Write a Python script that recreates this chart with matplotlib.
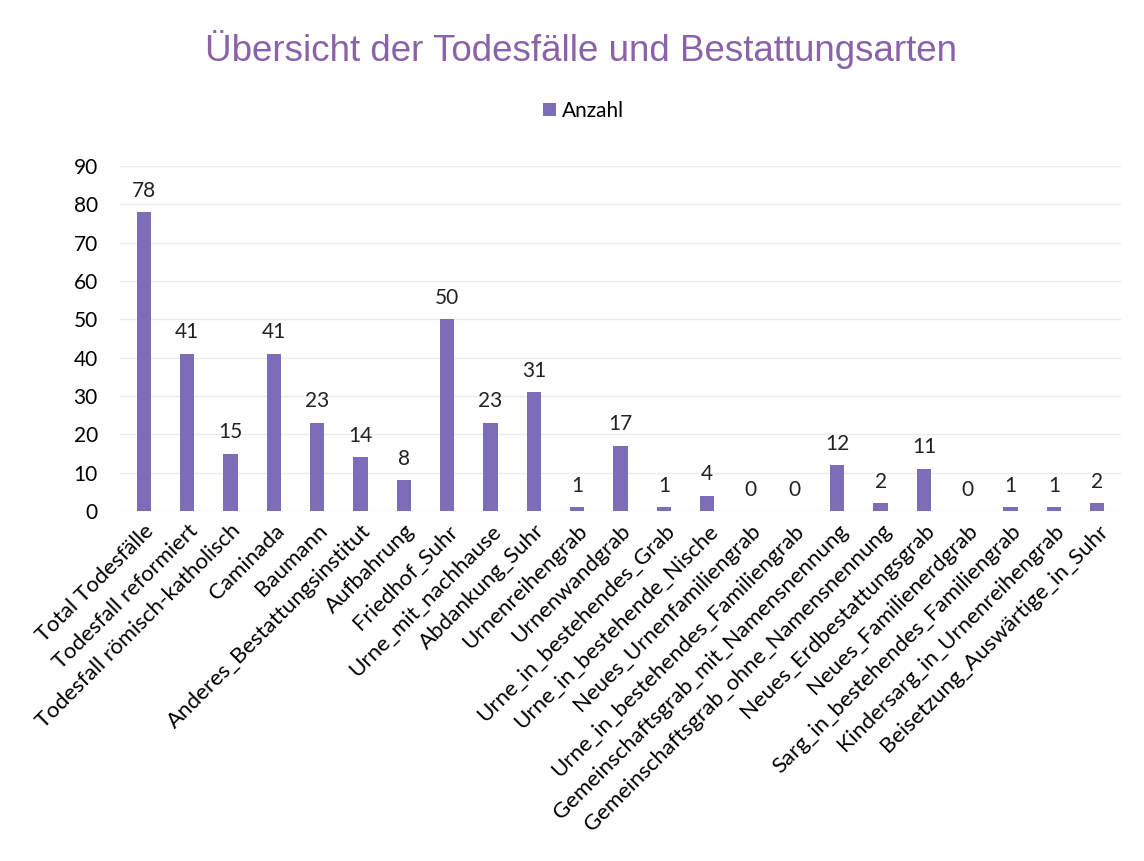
import matplotlib.pyplot as plt

categories = [
    'Total Todesfälle', 'Todesfall reformiert', 'Todesfall römisch-katholisch',
    'Caminada', 'Baumann', 'Anderes_Bestattungsinstitut', 'Aufbahrung',
    'Friedhof_Suhr', 'Urne_mit_nachhause', 'Abdankung_Suhr', 'Urnenreihengrab',
    'Urnenwandgrab', 'Urne_in_bestehendes_Grab', 'Urne_in_bestehende_Nische',
    'Neues_Urnenfamiliengrab', 'Urne_in_bestehendes_Familiengrab',
    'Gemeinschaftsgrab_mit_Namensnennung', 'Gemeinschaftsgrab_ohne_Namensnennung',
    'Neues_Erdbestattungsgrab', 'Neues_Familienerdgrab',
    'Sarg_in_bestehendes_Familiengrab', 'Kindersarg_in_Urnenreihengrab',
    'Beisetzung_Auswärtige_in_Suhr',
]
anzahl = [78, 41, 15, 41, 23, 14, 8, 50, 23, 31, 1, 17, 1, 4, 0, 0, 12, 2, 11, 0, 1, 1, 2]
y_ticks = list(range(0, 100, 10))

bar_color = '#7b6db8'
label_font = ['Lato', 'DejaVu Sans']

fig = plt.figure(figsize=(11.44, 8.61), dpi=100)
ax = fig.add_axes([0.105, 0.4065, 0.875, 0.4005])

x = list(range(len(categories)))
bars = ax.bar(x, anzahl, width=0.33, color=bar_color, label='Anzahl', zorder=3)

for xi, v in zip(x, anzahl):
    ax.text(xi, v + 3, str(v), ha='center', va='bottom', fontsize=15,
            family=label_font, color='#222222')

ax.set_ylim(0, 90)
ax.set_xlim(-0.55, len(categories) - 0.45)
ax.set_yticks(y_ticks)
ax.set_yticklabels([str(t) for t in y_ticks], family=label_font, fontsize=15)
ax.set_xticks(x)
ax.set_xticklabels(categories, rotation=45, ha='right', rotation_mode='anchor',
                   family=label_font, fontsize=16)
ax.tick_params(axis='both', length=0, pad=16)
ax.tick_params(axis='x', pad=7)
ax.grid(axis='y', color='#ececec', linewidth=1, zorder=0)
for s in ax.spines.values():
    s.set_visible(False)

fig.text(0.508, 0.943, 'Übersicht der Todesfälle und Bestattungsarten',
         ha='center', va='center', fontsize=26.5, color='#8a62a8',
         family=['Liberation Sans', 'DejaVu Sans'])

fig.legend(handles=[bars], labels=['Anzahl'], loc='center', bbox_to_anchor=(0.51, 0.871),
           frameon=False, handlelength=0.6, handleheight=0.6, handletextpad=0.3,
           prop={'family': 'Lato', 'size': 15})

fig.savefig('out.png', dpi=100, facecolor='white')
